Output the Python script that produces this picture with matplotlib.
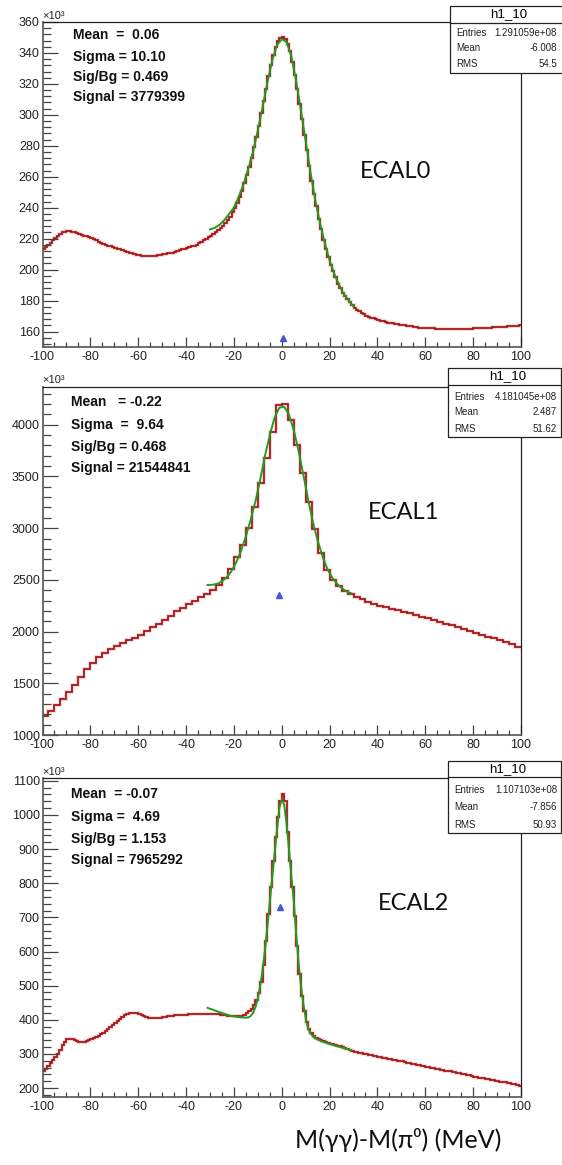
import numpy as np
import matplotlib
matplotlib.use("Agg")
import matplotlib.pyplot as plt
from matplotlib.patches import Rectangle
from matplotlib.lines import Line2D
from matplotlib.ticker import MultipleLocator

W, H = 562, 1165

# ---------------------------------------------------------------- ECAL0 (x10^3, 1 MeV bins)
ecal0_counts = [
    213, 214.5, 216, 217.5, 219, 220.5, 222, 223, 224, 224.5,
    225, 225, 224.5, 224, 223.5, 223, 222.5, 222, 221.5, 221,
    220.5, 220, 219, 218, 217, 216.5, 216, 215.5, 215, 214.5,
    214, 213.5, 213, 212.5, 212, 211.5, 211, 210.5, 210, 209.5,
    209.5, 209, 209, 209, 209, 209, 209, 209, 209.5, 209.5,
    210, 210, 210.5, 210.5, 211, 211.5, 212, 212.5, 213, 213.5,
    214, 214.5, 215, 215.5, 216, 217, 218, 219, 220, 221,
    222, 223, 224, 225.5, 227, 228.5, 230, 232, 234, 237,
    240, 243, 247, 251, 256, 261, 266, 272, 279, 286,
    293, 301, 309, 317, 325, 332, 339, 344, 348, 349.5,
    350, 349, 346, 341, 334, 326, 317, 307, 297, 287,
    277, 267, 257, 249, 241, 233, 226, 219, 213, 208,
    203, 199, 195, 191, 188, 185, 183, 181, 179, 177,
    175.5, 174, 173, 172, 171, 170, 169.5, 169, 168.5, 168,
    167.5, 167, 166.5, 166, 165.8, 165.5, 165.2, 165, 164.7, 164.5,
    164.2, 164, 163.8, 163.5, 163.3, 163, 162.8, 162.6, 162.5, 162.4,
    162.3, 162.2, 162, 162, 161.9, 161.8, 161.7, 161.6, 161.5, 161.5,
    161.5, 161.4, 161.4, 161.4, 161.5, 161.5, 161.6, 161.7, 161.8, 161.9,
    162, 162, 162.1, 162.2, 162.3, 162.4, 162.5, 162.6, 162.7, 162.8,
    162.9, 163, 163.1, 163.2, 163.3, 163.5, 163.6, 163.7, 163.8, 164,
]
ecal0_fit_x = [-30, -28, -26, -24, -22, -20, -18, -16, -14, -12, -10, -8, -6, -4, -2, 0,
               2, 4, 6, 8, 10, 12, 14, 16, 18, 20, 22, 24, 26, 28, 30]
ecal0_fit_y = [226, 227, 229, 232, 236, 240, 247, 255, 265, 276, 290, 305, 321, 335, 345, 349,
               347, 338, 322, 303, 283, 263, 245, 230, 217, 206, 197, 190, 184, 180, 176]

# ---------------------------------------------------------------- ECAL1 (x10^3, 2.5 MeV bins)
ecal1_counts = [
    1180, 1235, 1290, 1350, 1415, 1485, 1560, 1635, 1700, 1755,
    1795, 1835, 1862, 1888, 1915, 1940, 1970, 2005, 2040, 2075,
    2115, 2155, 2195, 2232, 2265, 2295, 2330, 2365, 2400, 2450,
    2520, 2610, 2720, 2840, 3000, 3200, 3440, 3680, 3930, 4195,
    4205, 4050, 3800, 3530, 3250, 2990, 2760, 2600, 2500, 2440,
    2395, 2360, 2335, 2312, 2290, 2268, 2250, 2235, 2220, 2205,
    2190, 2175, 2160, 2145, 2128, 2112, 2095, 2078, 2060, 2042,
    2024, 2006, 1988, 1970, 1952, 1934, 1916, 1897, 1878, 1855,
]
ecal1_fit_x = [-31, -29, -27, -25, -23, -21, -19, -17, -15, -13, -11, -9, -7, -5, -3, -1,
               1, 3, 5, 7, 9, 11, 13, 15, 17, 19, 21, 23, 25, 27, 29]
ecal1_fit_y = [2450, 2452, 2462, 2485, 2525, 2585, 2670, 2780, 2920, 3080, 3260, 3470, 3700,
               3900, 4070, 4165, 4175, 4100, 3950, 3750, 3520, 3280, 3060, 2880, 2730, 2610,
               2525, 2465, 2420, 2390, 2370]

# ---------------------------------------------------------------- ECAL2 (x10^3, 1 MeV bins)
ecal2_counts = [
    250, 257, 265, 273, 282, 291, 300, 312, 326, 336,
    343, 345, 343, 340, 337, 336, 335, 335, 337, 340,
    343, 346, 349, 353, 357, 362, 367, 372, 378, 385,
    391, 397, 403, 409, 414, 418, 420, 421, 421, 420,
    418, 415, 412, 409, 406, 405, 404, 404, 404, 405,
    407, 409, 410, 411, 412, 413, 413, 414, 414, 415,
    415, 416, 416, 416, 417, 417, 417, 417, 417, 417,
    417, 417, 416, 416, 415, 414, 413, 412, 411, 411,
    410, 410, 411, 412, 415, 419, 425, 433, 443, 457,
    478, 510, 560, 630, 710, 790, 865, 935, 995, 1040,
    1062, 1040, 950, 865, 790, 705, 615, 535, 470, 425,
    393, 372, 360, 352, 347, 343, 340, 337, 334, 332,
    330, 328, 326, 324, 322, 320, 318, 315, 312, 310,
    307, 305, 304, 302, 300, 299, 297, 296, 294, 293,
    291, 290, 289, 287, 286, 285, 283, 282, 280, 279,
    278, 276, 275, 273, 272, 270, 269, 267, 266, 264,
    263, 262, 260, 259, 257, 256, 254, 253, 251, 250,
    249, 247, 246, 244, 243, 241, 240, 238, 237, 235,
    234, 233, 231, 230, 229, 227, 226, 225, 223, 222,
    221, 219, 218, 217, 215, 214, 212, 211, 209, 207,
]
ecal2_fit_x = [-31, -29, -27, -25, -23, -21, -19, -17, -15, -14, -13, -12, -11, -10, -9, -8,
               -7, -6, -5, -4, -3, -2, -1, 0, 1, 2, 3, 4, 5, 6, 7, 8, 9, 10, 11, 12, 13, 14,
               15, 16, 17, 18, 20, 22, 24, 26, 28, 29]
ecal2_fit_y = [435, 430, 425, 420, 415, 411, 409, 407, 406, 407, 411, 420, 437, 462, 500, 548,
               605, 672, 745, 815, 885, 955, 1020, 1045, 1030, 975, 900, 820, 750, 655, 570,
               500, 448, 405, 375, 360, 352, 346, 342, 339, 336, 334, 329, 325, 321, 317, 313,
               311]

# blue markers (x, y in x10^3)
marker_x = [0.6, -1.0, -0.6]
marker_y = [156, 2357, 730]

labels = ["ECAL0", "ECAL1", "ECAL2"]
fit_text = [
    ["Mean  =  0.06", "Sigma = 10.10", "Sig/Bg = 0.469", "Signal = 3779399"],
    ["Mean   = -0.22", "Sigma  =  9.64", "Sig/Bg = 0.468", "Signal = 21544841"],
    ["Mean  = -0.07", "Sigma =  4.69", "Sig/Bg = 1.153", "Signal = 7965292"],
]
stat_entries = ["1.291059e+08", "4.181045e+08", "1.107103e+08"]
stat_mean = ["-6.008", "2.487", "-7.856"]
stat_rms = ["54.5", "51.62", "50.93"]

HIST_RED = "#a31212"
FIT_GREEN = "#1e9e1e"
ROOT_FONT = "Liberation Sans"
SLIDE_FONT = "Lato"

plt.rcParams["font.family"] = [ROOT_FONT, "DejaVu Sans"]
plt.rcParams["axes.unicode_minus"] = False


def fx(x):
    return x / W


def fy(y):
    return 1 - y / H


def add_panel(fig, frame, counts, fit_x, fit_y, mx, my, ylim, ymaj, ymin):
    left, top, right, bottom = frame
    ax = fig.add_axes([fx(left), fy(bottom), fx(right) - fx(left), fy(top) - fy(bottom)])
    edges = np.linspace(-100, 100, len(counts) + 1)
    ax.stairs(counts, edges, color="#e9b3b3", lw=2.6, alpha=0.6, baseline=None)
    ax.stairs(counts, edges, color=HIST_RED, lw=1.25, baseline=None)
    ax.plot(fit_x, fit_y, color=FIT_GREEN, lw=1.4)
    ax.plot([mx], [my], marker="^", ms=5, color="#4455dd", ls="none")
    ax.set_xlim(-100, 100)
    ax.set_ylim(*ylim)

    ax.xaxis.set_major_locator(MultipleLocator(20))
    ax.xaxis.set_minor_locator(MultipleLocator(5))
    ax.yaxis.set_major_locator(MultipleLocator(ymaj))
    ax.yaxis.set_minor_locator(MultipleLocator(ymin))
    ax.tick_params(axis="x", which="major", direction="in", length=7.5, width=0.9,
                   color="#444444", labelsize=9, labelcolor="#222222", pad=3)
    ax.tick_params(axis="x", which="minor", direction="in", length=3.8, width=0.9,
                   color="#444444")
    ax.tick_params(axis="y", which="major", direction="in", length=11, width=0.9,
                   color="#444444", labelsize=9, labelcolor="#222222", pad=2)
    ax.tick_params(axis="y", which="minor", direction="in", length=5.5, width=0.9,
                   color="#444444")
    for side in ["top", "right"]:
        ax.spines[side].set_color("#222222")
        ax.spines[side].set_linewidth(0.9)
    for side in ["left", "bottom"]:
        ax.spines[side].set_color("#555555")
        ax.spines[side].set_linewidth(1.2)
    ax.text(0.0, 1.004, "×10³", transform=ax.transAxes, ha="left", va="bottom",
            fontsize=8, color="#222222")
    return ax


def add_stat_box(fig, left, top, title_bottom, bottom, right, rows_y, entries, mean, rms):
    box = Rectangle((fx(left), fy(bottom)), fx(right) - fx(left), fy(top) - fy(bottom),
                    transform=fig.transFigure, facecolor="white", edgecolor="#222222",
                    lw=0.9, zorder=5)
    fig.add_artist(box)
    fig.add_artist(Line2D([fx(left), fx(right)], [fy(title_bottom)] * 2,
                          transform=fig.transFigure, color="#222222", lw=0.9, zorder=6))
    fig.text(fx((left + min(right, W)) / 2 + 3), fy((top + title_bottom) / 2), "h1_10",
             ha="center", va="center", fontsize=9.5, zorder=7)
    for y, name, val in zip(rows_y, ["Entries", "Mean", "RMS"], [entries, mean, rms]):
        fig.text(fx(left + 6), fy(y), name, ha="left", va="center", fontsize=7,
                 color="#222222", zorder=7)
        fig.text(fx(557), fy(y), val, ha="right", va="center", fontsize=7,
                 color="#222222", zorder=7)


fig = plt.figure(figsize=(W / 100, H / 100), dpi=100)

frames = [(42.5, 22, 521, 347), (42.5, 386.5, 521, 735), (42.5, 778, 521, 1097)]
ylims = [(150, 360), (1000, 4370), (174, 1108)]
yticks = [(20, 4), (500, 100), (100, 20)]
series = [(ecal0_counts, ecal0_fit_x, ecal0_fit_y),
          (ecal1_counts, ecal1_fit_x, ecal1_fit_y),
          (ecal2_counts, ecal2_fit_x, ecal2_fit_y)]

for i in range(3):
    counts, fxs, fys = series[i]
    add_panel(fig, frames[i], counts, fxs, fys, marker_x[i], marker_y[i],
              ylims[i], *yticks[i])

# fit summaries, upper left of each pad
text_rows = [[35, 57, 77, 97], [402, 425, 447, 468], [794, 817, 839, 860]]
text_left = [73, 71, 71]
for i in range(3):
    for y, s in zip(text_rows[i], fit_text[i]):
        fig.text(fx(text_left[i]), fy(y), s, ha="left", va="center", fontsize=10,
                 fontweight="bold", color="#111111")

# calorimeter names
label_pos = [(396, 172), (404, 513), (413, 903)]
for (x, y), s in zip(label_pos, labels):
    fig.text(fx(x), fy(y), s, ha="center", va="center", fontsize=17,
             family=[SLIDE_FONT, "DejaVu Sans"], color="#111111")

# stat boxes
add_stat_box(fig, 450, 6, 23, 73, 575, [33, 48, 64],
             stat_entries[0], stat_mean[0], stat_rms[0])
add_stat_box(fig, 448, 368, 385, 437, 561, [397, 412, 429],
             stat_entries[1], stat_mean[1], stat_rms[1])
add_stat_box(fig, 448, 761, 777, 833, 561, [790, 807, 825],
             stat_entries[2], stat_mean[2], stat_rms[2])

fig.text(fx(398), fy(1140), "M(γγ)-M(π⁰) (MeV)", ha="center", va="center",
         fontsize=18, family=[SLIDE_FONT, "DejaVu Sans"], color="#111111")

fig.savefig("out.png", dpi=100)
plt.close(fig)
